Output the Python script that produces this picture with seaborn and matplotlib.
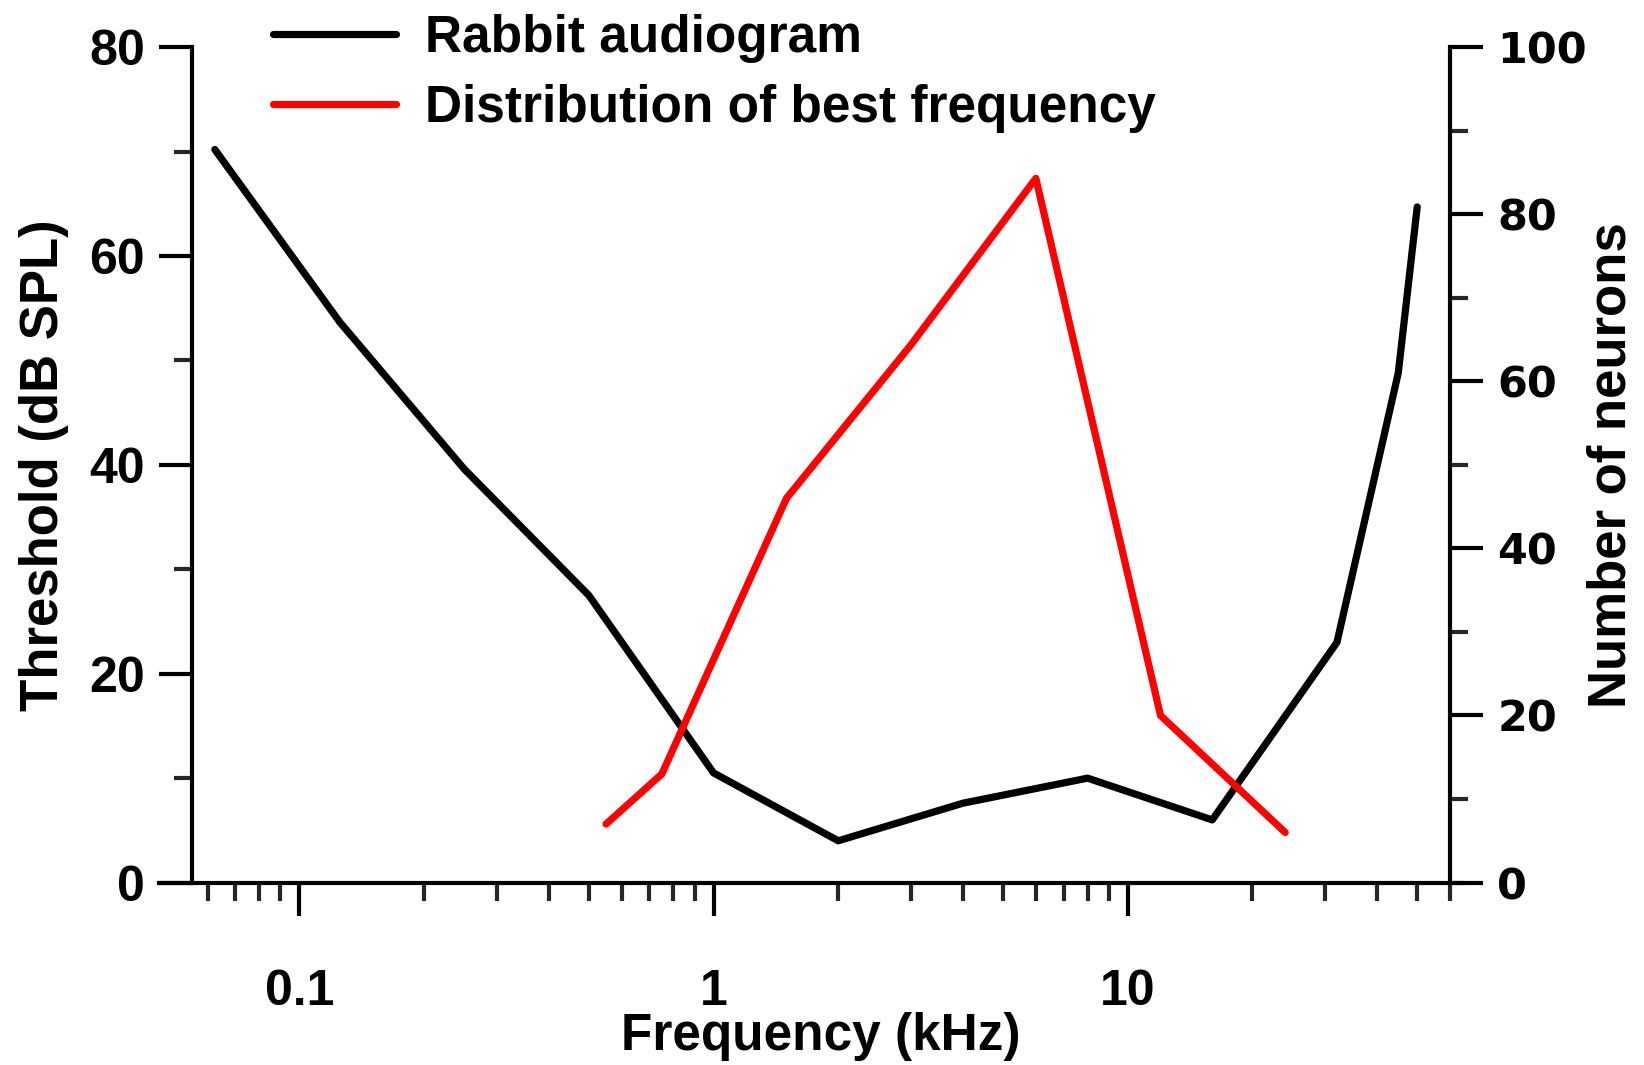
import numpy as np
import matplotlib
matplotlib.use("Agg")
import matplotlib.pyplot as plt
import matplotlib.ticker as mticker
import seaborn as sns
import pandas as pd

# audiogram (left axis)
audio_freq = [0.0625, 0.125, 0.25, 0.5, 1, 2, 4, 8, 16, 32, 45, 50]
audio_thr = [70.2, 53.7, 39.6, 27.5, 10.5, 4.0, 7.6, 10.0, 6.0, 23.0, 48.8, 64.7]

# best frequency distribution (right axis)
bf_freq = [0.55, 0.75, 1.5, 3, 6, 12, 24]
bf_count = [7, 13, 46, 64.4, 84.3, 20, 6]

left_ticks = [0, 20, 40, 60, 80]
right_ticks = [0, 20, 40, 60, 80, 100]
x_ticks = [0.1, 1, 10]
x_ticklabels = ["0.1", "1", "10"]

audio_df = pd.DataFrame({"freq": audio_freq, "thr": audio_thr})
bf_df = pd.DataFrame({"freq": bf_freq, "count": bf_count})

sns.set_theme(style="ticks")
plt.rcParams["font.family"] = ["Liberation Sans", "DejaVu Sans"]
plt.rcParams["font.weight"] = "bold"
plt.rcParams["text.color"] = "black"
plt.rcParams["axes.labelcolor"] = "black"

fig = plt.figure(figsize=(16.44, 10.65), dpi=100)
ax = fig.add_axes([0.1167, 0.1713, 0.7653, 0.7844])
ax2 = ax.twinx()

LW = 5.2
sns.lineplot(data=audio_df, x="freq", y="thr", ax=ax, color="black", lw=LW,
             estimator=None, sort=False, legend=False)
sns.lineplot(data=bf_df, x="freq", y="count", ax=ax2, color="#ff0000", lw=LW,
             estimator=None, sort=False, legend=False)

ax.set_xscale("log")
ax.set_xlim(0.055, 60)
ax.set_ylim(0, 80)
ax2.set_ylim(0, 100)

ax.xaxis.set_major_locator(mticker.FixedLocator(x_ticks))
ax.xaxis.set_major_formatter(mticker.FixedFormatter(x_ticklabels))
ax.xaxis.set_minor_locator(mticker.LogLocator(base=10, subs=np.arange(2, 10)))
ax.xaxis.set_minor_formatter(mticker.NullFormatter())
ax.set_yticks(left_ticks)
ax.yaxis.set_minor_locator(mticker.MultipleLocator(10))
ax2.set_yticks(right_ticks)
ax2.yaxis.set_minor_locator(mticker.MultipleLocator(10))

SW = 3.0
for a in (ax, ax2):
    for s in a.spines.values():
        s.set_linewidth(SW)
        s.set_color("black")
    a.spines["top"].set_visible(False)
ax.spines["right"].set_visible(False)
ax2.spines["left"].set_visible(False)
ax2.spines["bottom"].set_visible(False)
ax.spines["bottom"].set_bounds(0.0458, 64.5)

ax.tick_params(axis="both", which="major", length=24, width=SW, direction="out",
               labelsize=36, colors="black")
ax.tick_params(axis="both", which="minor", length=13, width=SW, direction="out")
ax.tick_params(axis="y", which="major", pad=10)
ax.tick_params(axis="x", which="major", pad=38)
ax2.tick_params(axis="y", which="major", length=24, width=SW, direction="out",
                labelsize=31, pad=10, colors="black")
ax2.tick_params(axis="y", which="minor", length=13, width=SW, direction="out")
for lab in ax.get_xticklabels() + ax.get_yticklabels():
    lab.set_fontweight("bold")
for lab in ax2.get_yticklabels():
    lab.set_fontweight("bold")
    lab.set_family("DejaVu Sans")

ax.set_xlabel("Frequency (kHz)", fontsize=37, fontweight="bold", labelpad=-2)
ax.set_ylabel("Threshold (dB SPL)", fontsize=38, fontweight="bold", labelpad=14)
ax2.set_ylabel("Number of neurons", fontsize=38, fontweight="bold", labelpad=0)

handles = [plt.Line2D([], [], color="black", lw=LW),
           plt.Line2D([], [], color="#ff0000", lw=LW)]
leg = fig.legend(handles, ["Rabbit audiogram", "Distribution of best frequency"],
                 loc="upper left", bbox_to_anchor=(0.138, 1.03), frameon=False,
                 prop={"size": 37, "weight": "bold"}, handlelength=2.4,
                 handletextpad=0.55, labelspacing=0.4)

fig.savefig("out.png", dpi=100, facecolor="white")
